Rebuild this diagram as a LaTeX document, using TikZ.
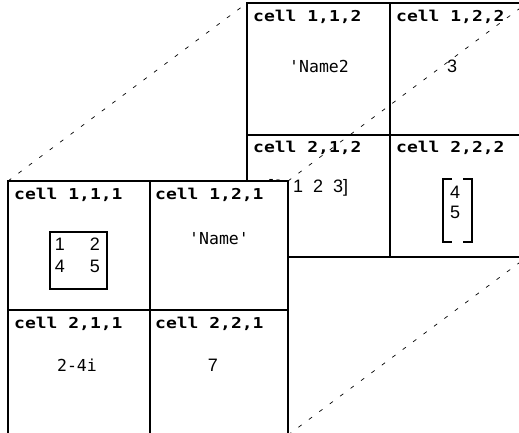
\documentclass[tikz,border=0pt]{standalone}
\usepackage{fontspec}
\setmainfont{Liberation Sans}
\newfontfamily\monofont{DejaVu Sans Mono}
\newfontfamily\monobold[FakeStretch=1.2]{DejaVu Sans Mono Bold}
\usepackage{tikz}

\tikzset{
  page/.style={line width=1.9pt, fill=white},
  rule/.style={line width=1.9pt},
  celllabel/.style={anchor=base west, inner sep=0pt, font=\monobold\fontsize{15}{17}\selectfont},
  valtext/.style={anchor=base, inner sep=0pt, font=\monofont\fontsize{16.5}{18}\selectfont},
  numtext/.style={anchor=base, inner sep=0pt, font=\fontsize{18}{20}\selectfont},
  depth/.style={line width=0.7pt, dash pattern=on 4pt off 9pt},
}

\begin{document}
\begin{tikzpicture}[x=1pt, y=-1pt]
% Drawing window
\clip (0,0) rectangle (519,432);

% Corners of both pages
\coordinate (b-nw) at (247,3);
\coordinate (b-ne) at (527,3);
\coordinate (b-se) at (527,257);
\coordinate (f-nw) at (8,181);
\coordinate (f-ne) at (288,181);
\coordinate (f-se) at (288,435);

% Back page
\draw[page] (b-nw) rectangle (b-se);
\draw[rule] (390,3) -- (390,257);
\draw[rule] (247,135) -- (527,135);
\foreach \r/\c/\x/\y in {1/1/253/21, 1/2/396/21, 2/1/253/152, 2/2/396/152} {
  \node[celllabel] (lbl\r\c2) at (\x,\y) {cell \r,\c,2};
}
\node[valtext] (name2) at (319,72) {'Name2};
\node[numtext] (three) at (452,72) {3};
\node[numtext, anchor=base west] (row) at (268,192) {[0~~1~~2~~3]};
\node[numtext] (vec4) at (455,198) {4};
\node[numtext] (vec5) at (455,218) {5};
\draw[rule] (452,179) -- (443,179) -- (443,242) -- (452,242);
\draw[rule] (463,179) -- (472,179) -- (472,242) -- (463,242);

% Depth lines
\draw[depth] (f-nw) -- (b-nw);
\draw[depth] (f-ne) -- (b-ne);
\draw[depth] (f-se) -- (b-se);

% Front page
\draw[page] (f-nw) rectangle (f-se);
\draw[rule] (150,181) -- (150,435);
\draw[rule] (8,310) -- (288,310);
\foreach \r/\c/\x/\y in {1/1/14/199, 1/2/155/199, 2/1/14/328, 2/2/155/328} {
  \node[celllabel] (lbl\r\c1) at (\x,\y) {cell \r,\c,1};
}
\draw[rule] (50,232) rectangle (107,289);
\node[numtext] (m11) at (60,250) {1};
\node[numtext] (m12) at (95,250) {2};
\node[numtext] (m21) at (60,272) {4};
\node[numtext] (m22) at (95,272) {5};
\node[valtext] (name) at (219,244) {'Name'};
\node[valtext] (cplx) at (77,371) {2-4i};
\node[numtext] (seven) at (213,371) {7};

\end{tikzpicture}
\end{document}
